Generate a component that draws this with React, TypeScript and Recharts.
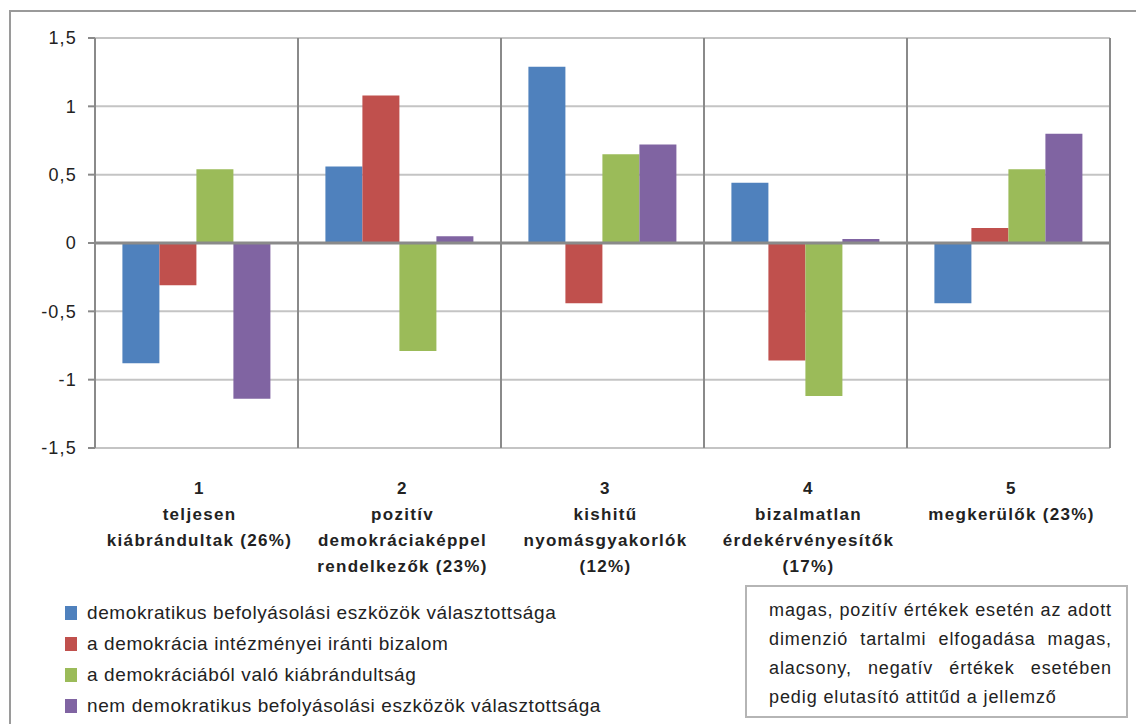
import { BarChart, Bar, XAxis, YAxis, CartesianGrid, ReferenceLine } from "recharts";

const categories = ["1", "2", "3", "4", "5"];
const categoryLines: string[][] = [
  ["1", "teljesen", "kiábrándultak (26%)"],
  ["2", "pozitív", "demokráciaképpel", "rendelkezők (23%)"],
  ["3", "kishitű", "nyomásgyakorlók", "(12%)"],
  ["4", "bizalmatlan", "érdekérvényesítők", "(17%)"],
  ["5", "megkerülők (23%)"],
];

const demokratikus = [-0.88, 0.56, 1.29, 0.44, -0.44];
const bizalom = [-0.31, 1.08, -0.44, -0.86, 0.11];
const kiabrandultsag = [0.54, -0.79, 0.65, -1.12, 0.54];
const nemDemokratikus = [-1.14, 0.05, 0.72, 0.03, 0.8];

const yTicks = [-1.5, -1, -0.5, 0, 0.5, 1, 1.5];

const seriesNames = [
  "demokratikus befolyásolási eszközök választottsága",
  "a demokrácia intézményei iránti bizalom",
  "a demokráciából való kiábrándultság",
  "nem demokratikus befolyásolási eszközök választottsága",
];
const colors = ["#4F81BD", "#C0504D", "#9BBB59", "#8064A2"];

const noteLines = [
  "magas, pozitív értékek esetén az adott",
  "dimenzió tartalmi elfogadása magas,",
  "alacsony, negatív értékek esetében",
  "pedig elutasító attitűd a jellemző",
];

const data = categories.map((c, i) => ({
  name: c,
  s1: demokratikus[i],
  s2: bizalom[i],
  s3: kiabrandultsag[i],
  s4: nemDemokratikus[i],
}));

const FONT = "'Liberation Sans', Arial, sans-serif";

function CategoryTick(props: any) {
  const { x, y, index } = props;
  const lines = categoryLines[index] || [];
  return (
    <text
      x={x + 3}
      y={y}
      textAnchor="middle"
      fontFamily={FONT}
      fontWeight="bold"
      fontSize={17}
      letterSpacing={1.3}
      fill="#222"
    >
      {lines.map((l, i) => (
        <tspan key={i} x={x + 3} dy={i === 0 ? 38 : 26}>
          {l}
        </tspan>
      ))}
    </text>
  );
}

export default function App() {
  const dividers = ({ offset }: any) =>
    categories.map((_, i) => offset.left + ((i + 1) * offset.width) / 5);

  return (
    <div
      style={{
        position: "absolute",
        left: 0,
        top: 0,
        width: 1136,
        height: 724,
        background: "#fff",
        overflow: "hidden",
        fontFamily: FONT,
      }}
    >
      <div
        style={{
          position: "absolute",
          left: 9,
          top: 10,
          width: 1200,
          height: 800,
          border: "2px solid #9a9a9a",
        }}
      />
      <div style={{ position: "absolute", left: 0, top: 0 }}>
        <BarChart
          width={1136}
          height={600}
          data={data}
          margin={{ top: 38, right: 26, left: 0, bottom: 12 }}
          barCategoryGap="13.5%"
          barGap={0}
        >
          <CartesianGrid
            stroke="#c4c4c4"
            strokeWidth={2}
            horizontalValues={yTicks}
            vertical={false}
          />
          <CartesianGrid
            stroke="#8a8a8a"
            strokeWidth={2}
            horizontal={false}
            verticalCoordinatesGenerator={dividers}
          />
          <XAxis
            dataKey="name"
            height={140}
            axisLine={false}
            tickLine={false}
            interval={0}
            tick={<CategoryTick />}
          />
          <YAxis
            width={95}
            domain={[-1.5, 1.5]}
            ticks={yTicks}
            interval={0}
            axisLine={{ stroke: "#8a8a8a", strokeWidth: 2 }}
            tickLine={{ stroke: "#8a8a8a", strokeWidth: 2 }}
            tickSize={7}
            tickMargin={11}
            tick={{ fontSize: 18, fill: "#222", fontFamily: FONT, letterSpacing: 1.2 }}
            tickFormatter={(v: number) => String(v).replace(".", ",")}
          />
          <ReferenceLine y={0} stroke="#8a8a8a" strokeWidth={3} />
          <Bar dataKey="s1" fill={colors[0]} isAnimationActive={false} />
          <Bar dataKey="s2" fill={colors[1]} isAnimationActive={false} />
          <Bar dataKey="s3" fill={colors[2]} isAnimationActive={false} />
          <Bar dataKey="s4" fill={colors[3]} isAnimationActive={false} />
        </BarChart>
      </div>

      <div style={{ position: "absolute", left: 65, top: 597 }}>
        {seriesNames.map((n, i) => (
          <div
            key={n}
            style={{
              display: "flex",
              alignItems: "center",
              height: 31,
              fontSize: 19,
              letterSpacing: 0.6,
              color: "#222",
            }}
          >
            <span
              style={{
                display: "inline-block",
                width: 12,
                height: 14,
                background: colors[i],
                marginRight: 10,
              }}
            />
            {n}
          </div>
        ))}
      </div>

      <div
        style={{
          position: "absolute",
          left: 745,
          top: 585,
          width: 343,
          height: 120,
          border: "2px solid #b5b5b5",
          padding: "9px 14px 0 22px",
          fontSize: 18,
          letterSpacing: 0.9,
          lineHeight: "29px",
          color: "#222",
        }}
      >
        {noteLines.map((l, i) => (
          <div
            key={i}
            style={{
              textAlign: "justify",
              textAlignLast: i < noteLines.length - 1 ? "justify" : "left",
            }}
          >
            {l}
          </div>
        ))}
      </div>
    </div>
  );
}
